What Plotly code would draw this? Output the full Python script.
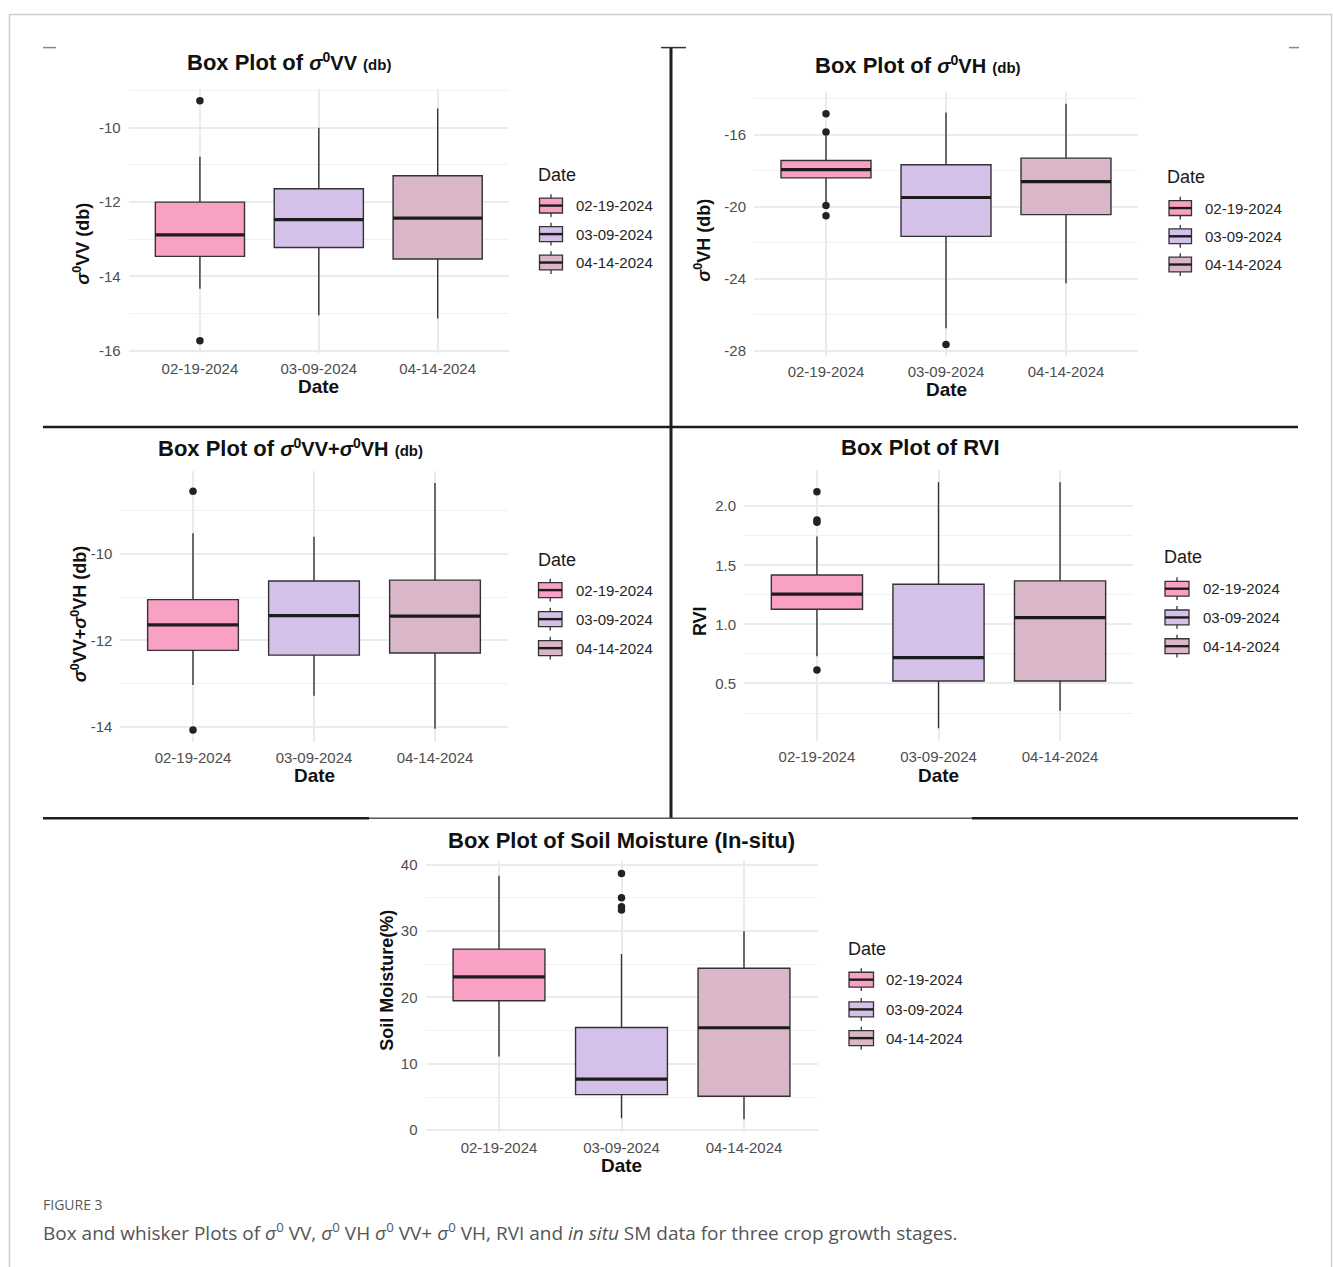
import plotly.graph_objects as go

W, H = 1333, 1267

# ---- data -----------------------------------------------------------------
dates = ["02-19-2024", "03-09-2024", "04-14-2024"]
fills = ["#F8A1C4", "#D4C0E9", "#D9B6C8"]

# sigma0 VV (dB)
vv_q1 = [-13.46, -13.22, -13.53]
vv_median = [-12.88, -12.47, -12.43]
vv_q3 = [-12.00, -11.64, -11.29]
vv_lower = [-14.33, -15.04, -15.13]
vv_upper = [-10.78, -10.00, -9.48]
vv_out_idx = [0, 0]
vv_out_val = [-9.27, -15.73]
vv_ticks = [-16, -14, -12, -10]
vv_minor = [-15, -13, -11, -9]

# sigma0 VH (dB)
vh_q1 = [-18.40, -21.65, -20.44]
vh_median = [-17.94, -19.49, -18.61]
vh_q3 = [-17.43, -17.67, -17.30]
vh_lower = [-19.78, -26.75, -24.26]
vh_upper = [-16.05, -14.77, -14.28]
vh_out_idx = [0, 0, 0, 0, 1]
vh_out_val = [-14.83, -15.85, -19.93, -20.51, -27.65]
vh_ticks = [-28, -24, -20, -16]
vh_minor = [-26, -22, -18, -14]

# sigma0 VV + sigma0 VH (dB)
vvvh_q1 = [-12.23, -12.34, -12.29]
vvvh_median = [-11.64, -11.43, -11.44]
vvvh_q3 = [-11.06, -10.63, -10.61]
vvvh_lower = [-13.03, -13.28, -14.04]
vvvh_upper = [-9.53, -9.61, -8.37]
vvvh_out_idx = [0, 0]
vvvh_out_val = [-8.56, -14.07]
vvvh_ticks = [-14, -12, -10]
vvvh_minor = [-13, -11, -9]

# RVI
rvi_q1 = [1.128, 0.521, 0.521]
rvi_median = [1.256, 0.719, 1.058]
rvi_q3 = [1.418, 1.340, 1.368]
rvi_lower = [0.730, 0.120, 0.270]
rvi_upper = [1.744, 2.203, 2.203]
rvi_out_idx = [0, 0, 0, 0]
rvi_out_val = [2.123, 1.883, 1.864, 0.613]
rvi_ticks = [0.5, 1.0, 1.5, 2.0]
rvi_minor = [0.25, 0.75, 1.25, 1.75]

# In-situ soil moisture (%)
sm_q1 = [19.52, 5.37, 5.12]
sm_median = [23.11, 7.71, 15.44]
sm_q3 = [27.29, 15.49, 24.40]
sm_lower = [11.10, 1.79, 1.64]
sm_upper = [38.36, 26.55, 29.98]
sm_out_idx = [1, 1, 1, 1]
sm_out_val = [38.70, 35.02, 33.67, 33.17]
sm_ticks = [0, 10, 20, 30, 40]
sm_minor = [5, 15, 25, 35]


def px(x):
    return x / W


def py(y):
    return 1 - y / H


FONT = "Arial, Liberation Sans, sans-serif"
SIG = "<i>σ</i><sup>0</sup>"
DB = "<span style='font-size:15px'>(db)</span>"


def big(s):
    return f"<span style='font-size:20px'>{s}</span>"


panels = [
    dict(q1=vv_q1, med=vv_median, q3=vv_q3, lo=vv_lower, hi=vv_upper,
         oi=vv_out_idx, ov=vv_out_val, ticks=vv_ticks, minor=vv_minor, fmt="{:g}",
         yr=[-16.05, -8.95], box=(128.6, 84.6, 509, 351),
         title=f"<b>Box Plot of {big(SIG + 'VV')} {DB}</b>",
         tpos=(185, 58), ytitle=f"<b>{SIG}VV (db)</b>", ypos=(82, 241), xtpos=385,
         leg=dict(tx=536, ty=171.5, kx=(539.5, 562.5), ys=[202.5, 231.3, 260], lx=573.5)),
    dict(q1=vh_q1, med=vh_median, q3=vh_q3, lo=vh_lower, hi=vh_upper,
         oi=vh_out_idx, ov=vh_out_val, ticks=vh_ticks, minor=vh_minor, fmt="{:g}",
         yr=[-28.32, -13.61], box=(754, 87.5, 1138, 354.8),
         title=f"<b>Box Plot of {big(SIG + 'VH')} {DB}</b>",
         tpos=(813, 61), ytitle=f"<b>{SIG}VH (db)</b>", ypos=(703, 238), xtpos=388.3,
         leg=dict(tx=1165, ty=174, kx=(1169, 1191.5), ys=[205, 233.5, 262], lx=1202.5)),
    dict(q1=vvvh_q1, med=vvvh_median, q3=vvvh_q3, lo=vvvh_lower, hi=vvvh_upper,
         oi=vvvh_out_idx, ov=vvvh_out_val, ticks=vvvh_ticks, minor=vvvh_minor, fmt="{:g}",
         yr=[-14.355, -8.085], box=(120.4, 470.2, 507.6, 744.5),
         title=f"<b>Box Plot of {big(SIG + 'VV+' + SIG + 'VH')} {DB}</b>",
         tpos=(156, 447), ytitle=f"<b>{SIG}VV+{SIG}VH (db)</b>", ypos=(79, 615), xtpos=777.7,
         leg=dict(tx=535.5, ty=560, kx=(538.5, 562), ys=[590.7, 620, 649.3], lx=573.5)),
    dict(q1=rvi_q1, med=rvi_median, q3=rvi_q3, lo=rvi_lower, hi=rvi_upper,
         oi=rvi_out_idx, ov=rvi_out_val, ticks=rvi_ticks, minor=rvi_minor, fmt="{:.1f}",
         yr=[0.016, 2.307], box=(744, 469.4, 1133, 742.7),
         title="<b>Box Plot of RVI</b>",
         tpos=(839, 447), ytitle="<b>RVI</b>", ypos=(700, 622), xtpos=777.7,
         leg=dict(tx=1161.5, ty=557.7, kx=(1165, 1189), ys=[589.3, 618.3, 647.3], lx=1200.5)),
    dict(q1=sm_q1, med=sm_median, q3=sm_q3, lo=sm_lower, hi=sm_upper,
         oi=sm_out_idx, ov=sm_out_val, ticks=sm_ticks, minor=sm_minor, fmt="{:g}",
         yr=[-0.21, 40.55], box=(425.5, 864.3, 817.5, 1137.4),
         title="<b>Box Plot of Soil Moisture (In-situ)</b>",
         tpos=(446, 843), ytitle="<b>Soil Moisture(%)</b>", ypos=(387, 985), xtpos=1171.7,
         leg=dict(tx=846, ty=953, kx=(849, 873.5), ys=[984, 1014, 1043], lx=884.5)),
]

fig = go.Figure()
layout = dict(
    width=W, height=H, autosize=False,
    margin=dict(l=0, r=0, t=0, b=0),
    paper_bgcolor="white", plot_bgcolor="white",
    showlegend=False, boxmode="overlay",
    font=dict(family=FONT, size=14),
)
annotations = []
shapes = []

BOX_HALF = 0.375

for i, p in enumerate(panels):
    n = "" if i == 0 else str(i + 1)
    xref, yref = "x" + n, "y" + n
    left, top, right, bottom = p["box"]

    for k in range(len(dates)):
        fig.add_trace(go.Box(
            x=[k], q1=[p["q1"][k]], median=[p["med"][k]], q3=[p["q3"][k]],
            lowerfence=[p["lo"][k]], upperfence=[p["hi"][k]],
            width=2 * BOX_HALF, whiskerwidth=0, boxpoints=False,
            fillcolor=fills[k], line=dict(color="#333333", width=1.4),
            xaxis=xref, yaxis=yref, name=dates[k], hoverinfo="skip",
        ))
        # thicker median bar
        fig.add_trace(go.Scatter(
            x=[k - BOX_HALF, k + BOX_HALF], y=[p["med"][k], p["med"][k]],
            mode="lines", line=dict(color="#1c1c1c", width=3.2),
            xaxis=xref, yaxis=yref, hoverinfo="skip",
        ))
    fig.add_trace(go.Scatter(
        x=p["oi"], y=p["ov"], mode="markers",
        marker=dict(color="#222222", size=7.5),
        xaxis=xref, yaxis=yref, hoverinfo="skip",
    ))

    layout["xaxis" + n] = dict(
        domain=[px(left), px(right)], anchor=yref, range=[-0.6, 2.6],
        tickmode="array", tickvals=[0, 1, 2], ticktext=dates,
        showgrid=True, gridcolor="#EBEBEB", gridwidth=1.8,
        zeroline=False, showline=False, ticks="",
        tickfont=dict(size=15, color="#4D4D4D", family=FONT),
        ticklabelstandoff=5, fixedrange=True,
    )
    layout["yaxis" + n] = dict(
        domain=[py(bottom), py(top)], anchor=xref, range=p["yr"],
        tickmode="array", tickvals=p["ticks"],
        ticktext=[p["fmt"].format(v) for v in p["ticks"]],
        showgrid=True, gridcolor="#EBEBEB", gridwidth=1.8,
        minor=dict(tickmode="array", tickvals=p["minor"], showgrid=True,
                   gridcolor="#F1F1F1", gridwidth=1),
        zeroline=False, showline=False, ticks="",
        tickfont=dict(size=15, color="#4D4D4D", family=FONT),
        ticklabelstandoff=7, fixedrange=True,
    )

    # panel title
    tx, ty = p["tpos"]
    annotations.append(dict(
        text=p["title"], x=px(tx), y=py(ty), xref="paper", yref="paper",
        xanchor="left", yanchor="middle", showarrow=False,
        font=dict(size=22, color="#111111", family=FONT)))
    # axis titles
    annotations.append(dict(
        text="<b>Date</b>", x=px((left + right) / 2), y=py(p["xtpos"]),
        xref="paper", yref="paper", xanchor="center", yanchor="middle",
        showarrow=False, font=dict(size=19, color="#111111", family=FONT)))
    yx, yy = p["ypos"]
    annotations.append(dict(
        text=p["ytitle"], x=px(yx), y=py(yy), xref="paper", yref="paper",
        xanchor="center", yanchor="middle", textangle=-90, showarrow=False,
        font=dict(size=18, color="#111111", family=FONT)))

    # legend
    lg = p["leg"]
    annotations.append(dict(
        text="Date", x=px(lg["tx"]), y=py(lg["ty"]), xref="paper", yref="paper",
        xanchor="left", yanchor="middle", showarrow=False,
        font=dict(size=18, color="#1a1a1a", family=FONT)))
    kx0, kx1 = lg["kx"]
    kxm = (kx0 + kx1) / 2
    for k, yc in enumerate(lg["ys"]):
        shapes.append(dict(type="line", xref="paper", yref="paper",
                           x0=px(kxm), x1=px(kxm), y0=py(yc - 11.5), y1=py(yc + 11.5),
                           line=dict(color="#333333", width=1.3)))
        shapes.append(dict(type="rect", xref="paper", yref="paper",
                           x0=px(kx0), x1=px(kx1), y0=py(yc - 7.5), y1=py(yc + 7.5),
                           fillcolor=fills[k], line=dict(color="#333333", width=1.3)))
        shapes.append(dict(type="line", xref="paper", yref="paper",
                           x0=px(kx0), x1=px(kx1), y0=py(yc), y1=py(yc),
                           line=dict(color="#1c1c1c", width=2.4)))
        annotations.append(dict(
            text=dates[k], x=px(lg["lx"]), y=py(yc), xref="paper", yref="paper",
            xanchor="left", yanchor="middle", showarrow=False,
            font=dict(size=15, color="#262626", family=FONT)))

# frame and dividers
shapes.append(dict(type="rect", xref="paper", yref="paper",
                   x0=px(9.5), x1=px(1331.5), y0=py(9.5), y1=py(1275),
                   line=dict(color="#CFCFCF", width=1.5), fillcolor="rgba(0,0,0,0)"))
dark = "#1e1e1e"
shapes += [
    dict(type="line", xref="paper", yref="paper", x0=px(671), x1=px(671),
         y0=py(43), y1=py(821), line=dict(color=dark, width=3)),
    dict(type="line", xref="paper", yref="paper", x0=px(43), x1=px(1298),
         y0=py(426), y1=py(426), line=dict(color=dark, width=2.6)),
    dict(type="line", xref="paper", yref="paper", x0=px(43), x1=px(369),
         y0=py(821), y1=py(821), line=dict(color=dark, width=2.6)),
    dict(type="line", xref="paper", yref="paper", x0=px(369), x1=px(972),
         y0=py(821), y1=py(821), line=dict(color="#555555", width=1.4)),
    dict(type="line", xref="paper", yref="paper", x0=px(972), x1=px(1298),
         y0=py(821), y1=py(821), line=dict(color=dark, width=2.6)),
    dict(type="line", xref="paper", yref="paper", x0=px(661), x1=px(686),
         y0=py(43), y1=py(43), line=dict(color="#333333", width=1.5)),
    dict(type="line", xref="paper", yref="paper", x0=px(43), x1=px(56),
         y0=py(43), y1=py(43), line=dict(color="#888888", width=1.5)),
    dict(type="line", xref="paper", yref="paper", x0=px(1289), x1=px(1299),
         y0=py(43), y1=py(43), line=dict(color="#888888", width=1.5)),
]

# caption
annotations.append(dict(
    text="FIGURE 3", x=px(41), y=py(1223), xref="paper", yref="paper",
    xanchor="left", yanchor="bottom", showarrow=False,
    font=dict(size=14, color="#5a5a5a", family="Open Sans, sans-serif")))
annotations.append(dict(
    text=("Box and whisker Plots of <i>σ</i><sup>0</sup> VV, <i>σ</i><sup>0</sup> VH "
          "<i>σ</i><sup>0</sup> VV+ <i>σ</i><sup>0</sup> VH, RVI and <i>in situ</i> "
          "SM data for three crop growth stages."),
    x=px(41), y=py(1223), xref="paper", yref="paper",
    xanchor="left", yanchor="top", showarrow=False,
    font=dict(size=19, color="#555555", family="Open Sans, sans-serif")))

layout["annotations"] = annotations
layout["shapes"] = shapes
fig.update_layout(**layout)

fig.write_html("out.html")
